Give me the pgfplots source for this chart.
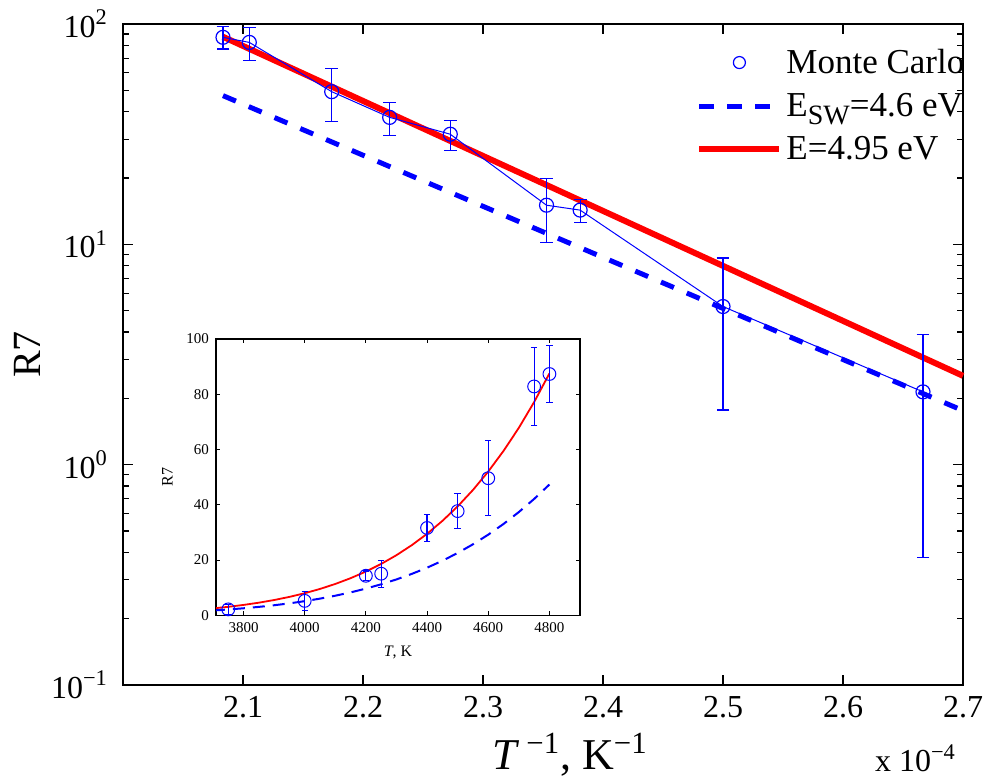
\documentclass[border=0pt]{standalone}
\usepackage{pgfplots}
\pgfplotsset{compat=1.18}
\usepackage{pgfplotstable}
\usepackage{fontspec}
\setmainfont{Liberation Serif}

\pgfplotstableread{
x y e
2.08333 87.0 10.0
2.10526 82.5 14.1
2.17391 49.3 13.3
2.22222 37.7 6.4
2.27273 31.6 4.9
2.35294 15.05 4.85
2.38095 14.3 1.7
2.50000 5.22 3.45
2.66667 2.14 1.76
}\mainpts

\pgfplotstableread{
T y e
3750 2.14 1.76
4000 5.22 3.45
4200 14.3 1.7
4250 15.05 4.85
4400 31.6 4.9
4500 37.7 6.4
4600 49.6 13.5
4750 82.8 14.0
4800 87.3 10.2
}\insetpts

\pgfplotstableread{
T y
3700 2.494
3750 3.067
3800 3.752
3850 4.565
3900 5.528
3950 6.662
4000 7.989
4050 9.539
4100 11.341
4150 13.427
4200 15.830
4250 18.595
4300 21.758
4350 25.373
4400 29.480
4450 34.140
4500 39.402
4550 45.337
4600 52.01
4650 59.48
4700 67.82
4750 77.14
4800 87.50
}\insetred

\pgfplotstableread{
T y
3700 1.735
3750 2.103
3800 2.536
3850 3.044
3900 3.636
3950 4.323
4000 5.119
4050 6.035
4100 7.088
4150 8.292
4200 9.663
4250 11.220
4300 12.985
4350 14.977
4400 17.220
4450 19.733
4500 22.546
4550 25.688
4600 29.175
4650 33.05
4700 37.35
4750 42.09
4800 47.32
}\insetblue

\begin{document}
\begin{tikzpicture}
\begin{axis}[
  at={(0,0)}, anchor=south west,
  scale only axis, width=420pt, height=330.5pt,
  xmin=2.0, xmax=2.7, ymode=log, ymin=0.1, ymax=100,
  xtick={2.1,2.2,2.3,2.4,2.5,2.6,2.7},
  xticklabels={2.1,2.2,2.3,2.4,2.5,2.6,2.7},
  ytick={0.1,1,10,100},
  yticklabels={10\textsuperscript{−1},10\textsuperscript{0},10\textsuperscript{1},10\textsuperscript{2}},
  minor ytick={0.2,0.3,0.4,0.5,0.6,0.7,0.8,0.9,2,3,4,5,6,7,8,9,20,30,40,50,60,70,80,90},
  tick label style={font=\fontsize{16}{19}\selectfont},
  xticklabel style={yshift=-2pt},
  yticklabel style={xshift=-4pt},
  major tick length=5pt, minor tick length=3pt,
  axis line style={line width=0.75pt},
  every tick/.style={black, line width=0.6pt},
  legend style={at={(0.675,0.975)}, anchor=north west, draw=none, fill=none,
    font=\fontsize{17.5}{20}\selectfont, row sep=4.5pt},
  legend cell align=left,
  legend image code/.code={\draw[mark repeat=2,mark phase=2,#1] plot coordinates {(0pt,0pt) (20pt,0pt) (40pt,0pt)};},
  clip=false,
]
\addlegendimage{only marks, blue, mark=o, mark size=3pt, mark options={line width=0.6pt}}
\addlegendentry{Monte Carlo}
\addlegendimage{blue, line width=2.5pt, dash pattern=on 7.5pt off 6.5pt}
\addlegendentry{E\raisebox{-0.5ex}{\fontsize{14}{16}\selectfont SW}=4.6 eV}
\addlegendimage{red, line width=3pt}
\addlegendentry{E=4.95 eV}

\addplot[forget plot, blue, line width=2.5pt, dash pattern=on 7pt off 7pt] coordinates {(2.08333,47.3) (2.7,1.76)};
\addplot[forget plot, red, line width=3pt] coordinates {(2.08333,87.5) (2.7,2.53)};
\addplot[forget plot, blue, line width=0.5pt, mark=o, mark size=3.5pt,
  mark options={solid, line width=0.6pt},
  error bars/.cd, y dir=both, y explicit,
  error bar style={blue, line width=0.55pt},
  error mark options={blue, rotate=90, mark size=3.2pt, line width=0.55pt}]
  table[x=x, y=y, y error=e] {\mainpts};

\node[font=\fontsize{22}{26}\selectfont, anchor=base] at (rel axis cs:0.532,0) [yshift=-42pt] {\textit{T}\,\textsuperscript{−1}, K\textsuperscript{−1}};
\node[font=\fontsize{16}{19}\selectfont, anchor=base east] at (rel axis cs:1,0) [yshift=-43.3pt] {x 10\textsuperscript{−4}};
\node[xshift=-48pt, font=\fontsize{20}{24}\selectfont, rotate=90, anchor=center] at (rel axis cs:0,0.5) {R7};
\end{axis}

\begin{axis}[
  at={(46.5pt,34.85pt)}, anchor=south west,
  scale only axis, width=182pt, height=138.2pt,
  xmin=3710, xmax=4900, ymin=0, ymax=100,
  xtick={3800,4000,4200,4400,4600,4800},
  ytick={0,20,40,60,80,100},
  axis background/.style={fill=white},
  /pgf/number format/assume math mode=true,
  /pgf/number format/1000 sep={},
  tick label style={font=\fontsize{7.5}{9}\selectfont},
  label style={font=\fontsize{8}{9.5}\selectfont},
  xlabel={\textit{T}, K}, ylabel={R7},
  major tick length=2pt,
  axis line style={line width=0.6pt},
  every tick/.style={black, line width=0.4pt},
]
\addplot[blue, line width=1pt, dash pattern=on 6pt off 4pt] table[x=T, y=y] {\insetblue};
\addplot[red, line width=0.9pt] table[x=T, y=y] {\insetred};
\addplot[blue, only marks, mark=o, mark size=3.2pt, mark options={line width=0.5pt},
  error bars/.cd, y dir=both, y explicit,
  error bar style={blue, line width=0.6pt},
  error mark options={blue, rotate=90, mark size=1.6pt, line width=0.6pt}]
  table[x=T, y=y, y error=e] {\insetpts};
\end{axis}
\pgfresetboundingbox
\path[use as bounding box] (-61.5pt,-48.5pt) rectangle (433pt,342.5pt);
\end{tikzpicture}
\end{document}
